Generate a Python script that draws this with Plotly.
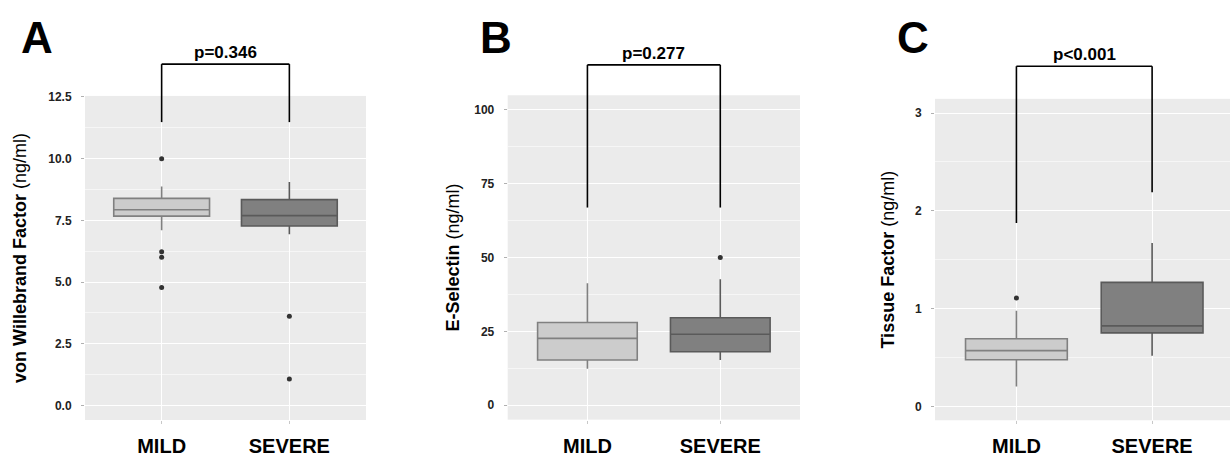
import plotly.graph_objects as go

W, H = 1230, 457
cats = ["MILD", "SEVERE"]
fills = ["#cccccc", "#808080"]
lines = ["#808080", "#5a5a5a"]

# Panel A: von Willebrand Factor
A_q1 = [7.67, 7.27]
A_med = [7.93, 7.69]
A_q3 = [8.39, 8.34]
A_lo = [7.10, 6.94]
A_hi = [8.87, 9.05]
A_out_mild = [10.0, 6.23, 6.0, 4.78]
A_out_severe = [3.61, 1.07]

# Panel B: E-Selectin
B_q1 = [15.3, 18.1]
B_med = [22.6, 24.0]
B_q3 = [28.0, 29.6]
B_lo = [12.3, 15.3]
B_hi = [41.3, 42.6]
B_out_mild = []
B_out_severe = [50.0]

# Panel C: Tissue Factor
C_q1 = [0.48, 0.754]
C_med = [0.573, 0.826]
C_q3 = [0.695, 1.27]
C_lo = [0.207, 0.52]
C_hi = [0.98, 1.673]
C_out_mild = [1.11]
C_out_severe = []

pvals = ["p=0.346", "p=0.277", "p<0.001"]
letters = ["A", "B", "C"]
ytitles = ["<b>von Willebrand Factor</b> (ng/ml)", "<b>E-Selectin</b> (ng/ml)", "<b>Tissue Factor</b> (ng/ml)"]

panels = [
    dict(q1=A_q1, med=A_med, q3=A_q3, lo=A_lo, hi=A_hi, om=A_out_mild, os=A_out_severe,
         yrange=[-0.59, 12.54], tickvals=[0, 2.5, 5, 7.5, 10, 12.5], fmt=".1f", minor=1.25,
         xdom=[85, 366], ydom=[93, 428], xrange=[-0.6, 1.6],
         bracket=[13.83, 11.48, 11.48], letter_x=37, title_x=20),
    dict(q1=B_q1, med=B_med, q3=B_q3, lo=B_lo, hi=B_hi, om=B_out_mild, os=B_out_severe,
         yrange=[-4.9, 104.9], tickvals=[0, 25, 50, 75, 100], fmt="d", minor=12.5,
         xdom=[507.7, 800], ydom=[92.3, 427.7], xrange=[-0.6, 1.6],
         bracket=[115.2, 66.9, 66.9], letter_x=496, title_x=453),
    dict(q1=C_q1, med=C_med, q3=C_q3, lo=C_lo, hi=C_hi, om=C_out_mild, os=C_out_severe,
         yrange=[-0.138, 3.145], tickvals=[0, 1, 2, 3], fmt="d", minor=0.5,
         xdom=[935, 1230], ydom=[96, 428.3], xrange=[-0.6, 1.574],
         bracket=[3.478, 1.877, 2.19], letter_x=913, title_x=888),
]

FONT = "Liberation Sans, Arial, sans-serif"
fig = go.Figure()
shapes = []
annotations = []

for i, p in enumerate(panels):
    n = "" if i == 0 else str(i + 1)
    xa, ya = "x" + n, "y" + n
    for j, c in enumerate(cats):
        fig.add_trace(go.Box(
            x=[c], q1=[p["q1"][j]], median=[p["med"][j]], q3=[p["q3"][j]],
            lowerfence=[p["lo"][j]], upperfence=[p["hi"][j]],
            fillcolor=fills[j], line=dict(color=lines[j], width=1.6),
            whiskerwidth=0, width=0.75, boxpoints=False, showlegend=False,
            xaxis=xa, yaxis=ya, hoverinfo="skip"))
    ox = ["MILD"] * len(p["om"]) + ["SEVERE"] * len(p["os"])
    oy = list(p["om"]) + list(p["os"])
    fig.add_trace(go.Scatter(x=ox, y=oy, mode="markers",
                             marker=dict(color="#333333", size=5), showlegend=False,
                             xaxis=xa, yaxis=ya, hoverinfo="skip", cliponaxis=False))

    x0d = (p["xdom"][0]) / W
    x1d = (p["xdom"][1]) / W
    y0d = (H - p["ydom"][1]) / H
    y1d = (H - p["ydom"][0]) / H
    fig.update_layout(**{
        "xaxis" + n: dict(domain=[x0d, min(x1d, 1.0)], anchor=ya, type="category",
                          categoryorder="array", categoryarray=cats,
                          range=p["xrange"], showgrid=True, gridcolor="white", gridwidth=1.2,
                          ticks="outside", ticklen=3, tickcolor="#c8c8c8",
                          tickfont=dict(family=FONT, size=20, color="black", weight="bold"),
                          ticklabelstandoff=5, zeroline=False, showline=False),
        "yaxis" + n: dict(domain=[y0d, y1d], anchor=xa, range=p["yrange"],
                          tickvals=p["tickvals"], tickformat=p["fmt"],
                          showgrid=True, gridcolor="white", gridwidth=1.2,
                          minor=dict(dtick=p["minor"], tick0=0, showgrid=True,
                                     gridcolor="#f6f6f6", gridwidth=0.7, ticks=""),
                          ticks="outside", ticklen=3, tickcolor="#b0b0b0",
                          tickfont=dict(family=FONT, size=12, color="#222222", weight="bold"),
                          ticklabelstandoff=7, zeroline=False, showline=False),
    })

    # significance bracket (in axis-domain coords computed from data values)
    xr = p["xrange"]
    yr = p["yrange"]
    def xd(k):
        return (k - xr[0]) / (xr[1] - xr[0])
    def yd(v):
        return (v - yr[0]) / (yr[1] - yr[0])
    top, t1, t2 = p["bracket"]
    lw = dict(color="black", width=1.6)
    shapes.append(dict(type="line", xref=xa + " domain", yref=ya + " domain",
                       x0=xd(0), x1=xd(1), y0=yd(top), y1=yd(top), line=lw))
    shapes.append(dict(type="line", xref=xa + " domain", yref=ya + " domain",
                       x0=xd(0), x1=xd(0), y0=yd(top), y1=yd(t1), line=lw))
    shapes.append(dict(type="line", xref=xa + " domain", yref=ya + " domain",
                       x0=xd(1), x1=xd(1), y0=yd(top), y1=yd(t2), line=lw))
    annotations.append(dict(text="<b>" + pvals[i] + "</b>", xref=xa + " domain", yref=ya + " domain",
                            x=(xd(0) + xd(1)) / 2, y=yd(top), yanchor="bottom", yshift=0,
                            showarrow=False, font=dict(family=FONT, size=17, color="black")))
    annotations.append(dict(text="<b>" + letters[i] + "</b>", xref="paper", yref="paper",
                            x=p["letter_x"] / W, y=(H - 33) / H, xanchor="center", yanchor="middle",
                            showarrow=False, font=dict(family=FONT, size=44, color="black")))
    annotations.append(dict(text=ytitles[i], xref="paper", yref="paper", textangle=-90,
                            x=p["title_x"] / W, y=(y0d + y1d) / 2, xanchor="center", yanchor="middle",
                            showarrow=False, font=dict(family=FONT, size=18, color="black")))

fig.update_layout(width=W, height=H, margin=dict(l=0, r=0, t=0, b=0),
                  paper_bgcolor="white", plot_bgcolor="#ebebeb",
                  shapes=shapes, annotations=annotations,
                  font=dict(family=FONT))
fig.write_html("out.html", config={"displayModeBar": False},
               post_script="document.body.style.margin='0';document.body.style.padding='0';document.body.style.overflow='hidden';")
